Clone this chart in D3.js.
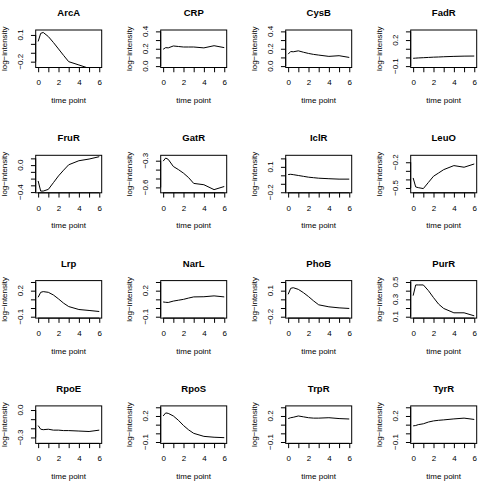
<!DOCTYPE html>
<html><head><meta charset="utf-8">
<script src="https://cdn.jsdelivr.net/npm/d3@7"></script>
<style>
body{margin:0;background:#fff}
svg{display:block}
text{font-family:"Liberation Sans",Arial,Helvetica,sans-serif;fill:#000}
</style>
</head><body><svg id="c" width="478" height="492"></svg>
<script>
const names = ["ArcA","CRP","CysB","FadR","FruR","GatR","IclR","LeuO","Lrp","NarL","PhoB","PurR","RpoE","RpoS","TrpR","TyrR"];
const times = [0,0.25,0.5,1,1.5,2,2.5,3,4,5,6];

const ArcA = [0.027,0.118,0.128,0.082,0.015,-0.057,-0.13,-0.2,-0.237,-0.275,-0.3];
const CRP  = [0.194,0.213,0.21,0.232,0.226,0.22,0.22,0.22,0.21,0.235,0.213];
const CysB = [0.138,0.168,0.165,0.176,0.16,0.146,0.135,0.127,0.112,0.12,0.1];
const FadR = [-0.01,-0.008,-0.006,-0.003,0.0,0.003,0.005,0.008,0.012,0.015,0.016];
const FruR = [-0.235,-0.385,-0.385,-0.36,-0.26,-0.16,-0.075,0.005,0.065,0.09,0.125];
const GatR = [-0.305,-0.27,-0.285,-0.365,-0.40,-0.44,-0.49,-0.555,-0.57,-0.625,-0.59];
const IclR = [0.009,0.012,0.008,-0.002,-0.012,-0.022,-0.028,-0.034,-0.04,-0.045,-0.045];
const LeuO = [-0.383,-0.488,-0.496,-0.507,-0.435,-0.363,-0.325,-0.286,-0.239,-0.258,-0.22];
const Lrp  = [0.124,0.181,0.189,0.181,0.15,0.105,0.056,0.017,-0.017,-0.028,-0.04];
const NarL = [0.07,0.066,0.064,0.08,0.09,0.1,0.115,0.128,0.13,0.14,0.128];
const PhoB = [0.058,0.127,0.134,0.115,0.077,0.032,-0.018,-0.063,-0.086,-0.098,-0.105];
const PurR = [0.343,0.466,0.466,0.466,0.40,0.32,0.245,0.195,0.145,0.145,0.11];
const RpoE = [-0.17,-0.21,-0.215,-0.21,-0.22,-0.22,-0.225,-0.225,-0.23,-0.235,-0.22];
const RpoS = [0.2,0.235,0.23,0.2,0.15,0.09,0.04,0.0,-0.035,-0.045,-0.05];
const TrpR = [0.17,0.18,0.185,0.2,0.19,0.18,0.175,0.175,0.18,0.17,0.165];
const TyrR = [0.086,0.09,0.1,0.11,0.13,0.143,0.15,0.155,0.166,0.175,0.16];

const series = [ArcA,CRP,CysB,FadR,FruR,GatR,IclR,LeuO,Lrp,NarL,PhoB,PurR,RpoE,RpoS,TrpR,TyrR];

const yDomains = [[-0.25,0.14],[0,0.4],[0,0.4],[-0.1,0.3],
                  [-0.39,0.125],[-0.645,-0.255],[-0.19,0.22],[-0.54,-0.135],
                  [-0.1,0.3],[-0.1,0.3],[-0.2,0.2],[0.1,0.5],
                  [-0.35,0.03],[-0.1,0.3],[-0.1,0.3],[-0.1,0.3]];
const yTicks = [[-0.2,-0.1,0,0.1],[0,0.1,0.2,0.3,0.4],[0,0.1,0.2,0.3,0.4],[-0.1,0,0.1,0.2,0.3],
                [-0.4,-0.3,-0.2,-0.1,0,0.1],[-0.6,-0.5,-0.4,-0.3],[-0.2,-0.1,0,0.1,0.2],[-0.5,-0.4,-0.3,-0.2],
                [-0.1,0,0.1,0.2,0.3],[-0.1,0,0.1,0.2,0.3],[-0.2,-0.1,0,0.1,0.2],[0.1,0.2,0.3,0.4,0.5],
                [-0.3,-0.2,-0.1,0],[-0.1,0,0.1,0.2,0.3],[-0.1,0,0.1,0.2,0.3],[-0.1,0,0.1,0.2,0.3]];
const yLabels = [[-0.2,0.1],[0,0.2,0.4],[0,0.2,0.4],[-0.1,0.2],
                 [-0.4,0],[-0.6,-0.3],[-0.2,0.1],[-0.5,-0.2],
                 [-0.1,0.2],[-0.1,0.2],[-0.2,0.1],[0.1,0.3,0.5],
                 [-0.3,0],[-0.1,0.2],[-0.1,0.2],[-0.1,0.2]];
const xTicks = [0,1,2,3,4,5,6];
const xLabels = [0,2,4,6];
const xLab = "time point";
const yLab = "log\u2212intensity";

const svg = d3.select("#c");
const boxW = 66, boxH = 37.5;
const fmt = v => (Math.abs(v) < 1e-9 ? 0 : v).toFixed(1).replace("-", "\u2212");

names.forEach((name, i) => {
  const c = i % 4, r = Math.floor(i / 4);
  const left = 35.7 + 125 * c, top = 30 + 125.3 * r;
  const g = svg.append("g").attr("transform", `translate(${left},${top})`);
  const x = d3.scaleLinear().domain([-0.24, 6.24]).range([0, boxW]);
  const [lo, hi] = yDomains[i];
  const pad = 0.04 * (hi - lo);
  const y = d3.scaleLinear().domain([lo - pad, hi + pad]).range([boxH, 0]);

  const cid = "clip" + i;
  g.append("clipPath").attr("id", cid).append("rect").attr("width", boxW).attr("height", boxH);

  g.append("path").datum(series[i])
    .attr("clip-path", `url(#${cid})`)
    .attr("fill", "none").attr("stroke", "#000").attr("stroke-width", 1)
    .attr("d", d3.line().x((d, j) => x(times[j])).y(d => y(d)));

  g.append("rect").attr("width", boxW).attr("height", boxH)
    .attr("fill", "none").attr("stroke", "#000").attr("stroke-width", 1);

  // x axis
  const xa = d3.axisBottom(x).tickValues(xTicks).tickSize(4.75).tickSizeOuter(0)
    .tickPadding(7.5).tickFormat(d => xLabels.includes(d) ? String(d) : "");
  const xg = g.append("g").attr("transform", `translate(0,${boxH})`).call(xa);
  xg.select(".domain").attr("d", `M${x(0)},0H${x(6)}`).attr("stroke", "#000");
  xg.selectAll("line").attr("stroke", "#000");
  xg.selectAll("text").attr("font-size", 8).attr("font-family", null).attr("fill", "#000");

  // y axis
  const ya = d3.axisLeft(y).tickValues(yTicks[i]).tickSize(4.75).tickSizeOuter(0).tickFormat("");
  const yg = g.append("g").call(ya);
  const yt = yTicks[i];
  yg.select(".domain").attr("d", `M0,${y(yt[0])}V${y(yt[yt.length-1])}`).attr("stroke", "#000");
  yg.selectAll("line").attr("stroke", "#000");
  yLabels[i].forEach(v => {
    g.append("text").attr("x", -12.5).attr("y", y(v))
      .attr("transform", `rotate(-90,-12.5,${y(v)})`)
      .attr("text-anchor", "middle").attr("font-size", 8).text(fmt(v));
  });

  // titles
  g.append("text").attr("x", boxW / 2).attr("y", -14)
    .attr("text-anchor", "middle").attr("font-size", 9.5).attr("font-weight", "bold").text(name);
  g.append("text").attr("x", boxW / 2).attr("y", boxH + 35.5)
    .attr("text-anchor", "middle").attr("font-size", 8).text(xLab);
  g.append("text").attr("x", -29).attr("y", boxH / 2)
    .attr("transform", `rotate(-90,-29,${boxH / 2})`)
    .attr("text-anchor", "middle").attr("font-size", 8).text(yLab);
});
</script>
</body></html>
